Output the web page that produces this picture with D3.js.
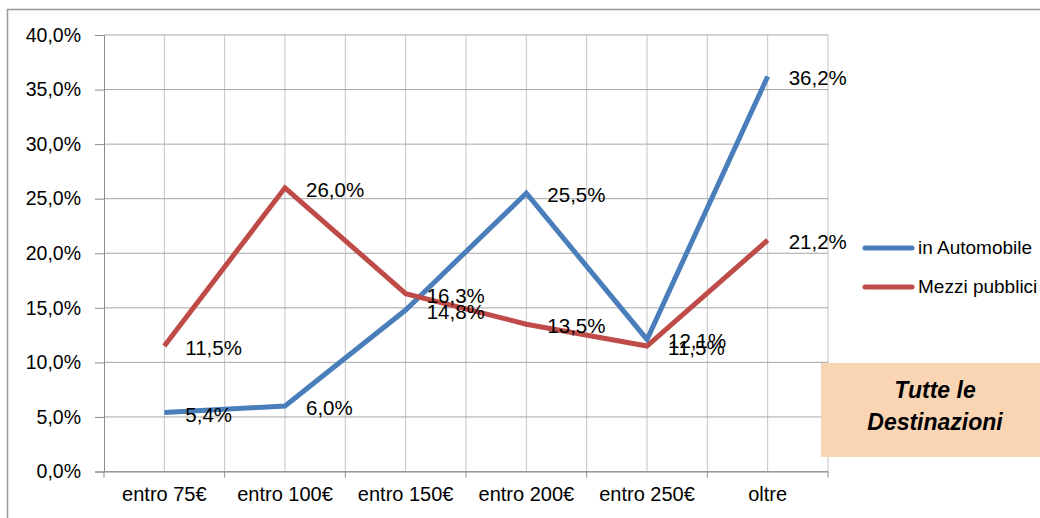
<!DOCTYPE html>
<html><head><meta charset="utf-8">
<script src="https://cdn.jsdelivr.net/npm/d3@7"></script>
<style>body{margin:0;background:#fff}svg{display:block}text{font-family:"Liberation Sans",Arial,sans-serif}</style>
</head><body><svg id="c" width="1040" height="518"></svg>
<script>
const categories = ["entro 75€","entro 100€","entro 150€","entro 200€","entro 250€","oltre"];
const auto = [5.4, 6.0, 14.8, 25.5, 12.1, 36.2];
const mezzi = [11.5, 26.0, 16.3, 13.5, 11.5, 21.2];
const seriesNames = ["in Automobile","Mezzi pubblici"];
const yTicks = [0,5,10,15,20,25,30,35,40];
const boxText = ["Tutte le","Destinazioni"];

const svg = d3.select("#c");
const L=104, R=828, T=35, B=471.5;
const fmt = v => v.toFixed(1).replace(".",",")+"%";
const x = d3.scaleBand().domain(categories).range([L,R]);
const y = d3.scaleLinear().domain([0,40]).range([B,T]);
const cx = c => x(c)+x.bandwidth()/2;

// outer frame
svg.append("path").attr("d","M7.5,518 V9.5 H1040").attr("fill","none").attr("stroke","#999").attr("stroke-width",1.5);

// vertical gridlines (centers and boundaries)
const g = svg.append("g");
categories.forEach((c,i)=>{
  g.append("line").attr("x1",cx(c)).attr("x2",cx(c)).attr("y1",T).attr("y2",B).attr("stroke","#c4c4c4");
  if(i>0) g.append("line").attr("x1",x(c)).attr("x2",x(c)).attr("y1",T).attr("y2",B).attr("stroke","#c4c4c4");
});
g.append("line").attr("x1",R).attr("x2",R).attr("y1",T).attr("y2",B).attr("stroke","#c4c4c4");
// horizontal gridlines
yTicks.forEach(t=>{
  g.append("line").attr("x1",L).attr("x2",R).attr("y1",y(t)).attr("y2",y(t)).attr("stroke","#a6a6a6");
});

// y axis
const ya = svg.append("g").attr("transform",`translate(${L},0)`)
  .call(d3.axisLeft(y).tickValues(yTicks).tickFormat(fmt).tickSize(9).tickPadding(14));
ya.select(".domain").attr("stroke","#8c8c8c");
ya.selectAll(".tick line").attr("stroke","#8c8c8c");
ya.selectAll("text").style("font-size","19.5px").attr("fill","#000");

// x axis
const xa = svg.append("g").attr("transform",`translate(0,${B})`)
  .call(d3.axisBottom(x).tickSize(0).tickPadding(15));
xa.select(".domain").attr("stroke","#8c8c8c");
xa.selectAll("text").style("font-size","20px").attr("fill","#000");
categories.concat([null]).forEach((c,i)=>{
  const xv = c===null ? R : x(c);
  xa.append("line").attr("x1",xv).attr("x2",xv).attr("y1",0).attr("y2",6).attr("stroke","#8c8c8c");
});

const colors = ["#4a7ebb","#be4b48"];
const data = [auto, mezzi];
const line = d3.line().x((d,i)=>cx(categories[i])).y(d=>y(d));
data.forEach((s,k)=>{
  svg.append("path").datum(s).attr("d",line).attr("fill","none")
    .attr("stroke",colors[k]).attr("stroke-width",5).attr("stroke-linejoin","miter");
});
data.forEach((s,k)=>{
  svg.append("g").selectAll("text").data(s).join("text")
    .attr("x",(d,i)=>cx(categories[i])+21).attr("y",d=>y(d)+9)
    .style("font-size","20.5px").attr("fill","#000").text(fmt);
});

// legend
seriesNames.forEach((n,k)=>{
  const ly = 248 + k*39;
  svg.append("line").attr("x1",865).attr("x2",912).attr("y1",ly).attr("y2",ly)
    .attr("stroke",colors[k]).attr("stroke-width",5).attr("stroke-linecap","round");
  svg.append("text").attr("x",918).attr("y",ly+6).style("font-size","19px").attr("fill","#000").text(n);
});

// box
svg.append("rect").attr("x",821).attr("y",363).attr("width",219).attr("height",94).attr("fill","#fad5b4");
boxText.forEach((t,i)=>{
  svg.append("text").attr("x",935).attr("y",398+i*32).attr("text-anchor","middle")
    .style("font-size","23px").attr("font-weight","bold").attr("font-style","italic").attr("fill","#000").text(t);
});
</script></body></html>
